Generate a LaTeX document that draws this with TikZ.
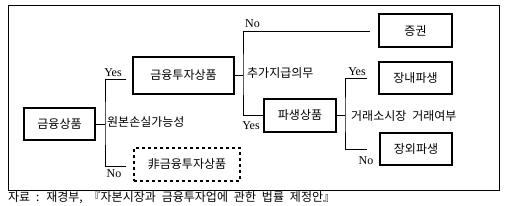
\documentclass[tikz,border=0pt]{standalone}
\usepackage{fontspec}
\setmainfont{Liberation Serif}
\newfontfamily\krfont[WordSpace=2.2]{Noto Sans CJK KR}
\usetikzlibrary{positioning, calc}
\definecolor{cText}{HTML}{000000}
\definecolor{cLine}{HTML}{000000}

\tikzset{
  prodbox/.style={draw=cLine, line width=2pt, inner sep=0pt,
    font=\krfont\fontsize{12}{14}\selectfont, text=cText},
  nonbox/.style={prodbox, dash pattern=on 3pt off 3pt},
  branch/.style={draw=cLine, line width=1pt},
  krlabel/.style={font=\krfont\fontsize{12}{14}\selectfont, text=cText, inner sep=0pt, anchor=west},
  yesno/.style={font=\fontsize{12}{14}\selectfont, text=cText, inner sep=0pt},
}

\begin{document}
\begin{tikzpicture}[x=1pt, y=-1pt]
  \useasboundingbox (0,0) rectangle (506,206);
  % frame
  \draw[branch] (8,5) rectangle (499,190);
  % product boxes
  \node[prodbox, minimum width=71pt, minimum height=32pt] (fin) at (59.5,124) {금융상품};
  \node[prodbox, minimum width=101pt, minimum height=37pt] (invest) at (183.5,75.5) {금융투자상품};
  \node[nonbox, minimum width=106pt, minimum height=33pt] (noninv) at (187,164.5) {非금융투자상품};
  \node[prodbox, minimum width=73pt, minimum height=33pt] (sec) at (415.5,30.5) {증권};
  \node[prodbox, minimum width=73pt, minimum height=32pt] (exch) at (415.5,78) {장내파생};
  \node[prodbox, minimum width=72pt, minimum height=33pt] (deriv) at (300,115.5) {파생상품};
  \node[prodbox, minimum width=72pt, minimum height=32pt] (otc) at (416,149) {장외파생};
  % fork 1: 원본손실가능성
  \coordinate (fork1) at (105,124);
  \coordinate (yes1) at (126,79);
  \coordinate (no1) at (126,166);
  \draw[branch] (fin.east) -- (fork1);
  \draw[branch] (yes1) -| (fork1) |- (no1);
  \node[yesno] (yes1lbl) at (113,72.5) {Yes};
  \node[yesno] (no1lbl) at (114,173.5) {No};
  \node[krlabel] (loss) at (107,122) {원본손실가능성};
  % fork 2: 추가지급의무
  \coordinate (fork2) at (243,75.5);
  \coordinate (no2) at (370,31);
  \draw[branch] (invest.east) -- (fork2);
  \draw[branch] (no2) -| (fork2) |- (deriv.west);
  \node[yesno] (no2lbl) at (252.5,23.5) {No};
  \node[yesno] (yes2lbl) at (251,126) {Yes};
  \node[krlabel] (extra) at (247,73) {추가지급의무};
  % fork 3: 거래소시장 거래여부
  \coordinate (fork3) at (345,115.5);
  \coordinate (yes3) at (367,78);
  \coordinate (no3) at (367,149);
  \draw[branch] (deriv.east) -- (fork3);
  \draw[branch] (yes3) -| (fork3) |- (no3);
  \node[yesno] (yes3lbl) at (357,72) {Yes};
  \node[yesno] (no3lbl) at (366,161) {No};
  \node[krlabel] (market) at (351,116) {거래소시장 거래여부};
  % source line
  \node[krlabel] (source) at (8,198) {자료 : 재경부,\ 『자본시장과 금융투자업에 관한 법률 제정안』};
\end{tikzpicture}
\end{document}
